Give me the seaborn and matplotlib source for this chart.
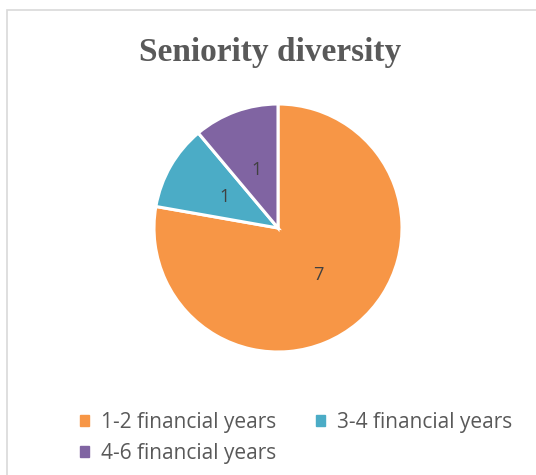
import matplotlib
matplotlib.use("Agg")
import matplotlib.pyplot as plt
import seaborn as sns
from matplotlib.patches import Rectangle, Patch

categories = ["1-2 financial years", "3-4 financial years", "4-6 financial years"]
values = [7, 1, 1]
colors = ["#F79646", "#4BACC6", "#8064A2"]
title = "Seniority diversity"

sns.set_theme(style="white")
plt.rcParams["font.family"] = ["Open Sans", "DejaVu Sans"]

W, H = 536, 475
fig = plt.figure(figsize=(W / 100, H / 100), dpi=100)
fig.patch.set_facecolor("white")

# chart border
fig.patches.append(Rectangle((7 / W, -0.1), 1.2, 1 - 10 / H + 0.1, transform=fig.transFigure,
                             fill=False, edgecolor="#D9D9D9", linewidth=1.2))

cx, cy, r = 278, 228, 124
ax = fig.add_axes([(cx - r) / W, (H - cy - r) / H, 2 * r / W, 2 * r / H])
total = sum(values)
wedges, _, autotexts = ax.pie(values, colors=colors, startangle=90, counterclock=False,
                              autopct=lambda p: f"{round(p * total / 100)}", pctdistance=0.5,
                              wedgeprops=dict(edgecolor="white", linewidth=2.2),
                              textprops=dict(color="#404040", fontsize=13))
ax.set_xlim(-1, 1)
ax.set_ylim(-1, 1)
ax.set_axis_off()

fig.text(270 / W, 1 - 52 / H, title, ha="center", va="center", fontsize=24,
         fontweight="bold", color="#595959", family=["Liberation Serif", "DejaVu Serif"])

handles = [Patch(facecolor=c, edgecolor=c) for c in colors]
order = [0, 2, 1]
fig.legend([handles[i] for i in order], [categories[i] for i in order], ncol=2,
           loc="center", bbox_to_anchor=(296 / W, 1 - 438 / H), frameon=False,
           fontsize=15, labelcolor="#595959", handlelength=0.45, handleheight=0.45,
           handletextpad=0.55, columnspacing=1.9, labelspacing=0.45)

fig.savefig("out.png", dpi=100)
